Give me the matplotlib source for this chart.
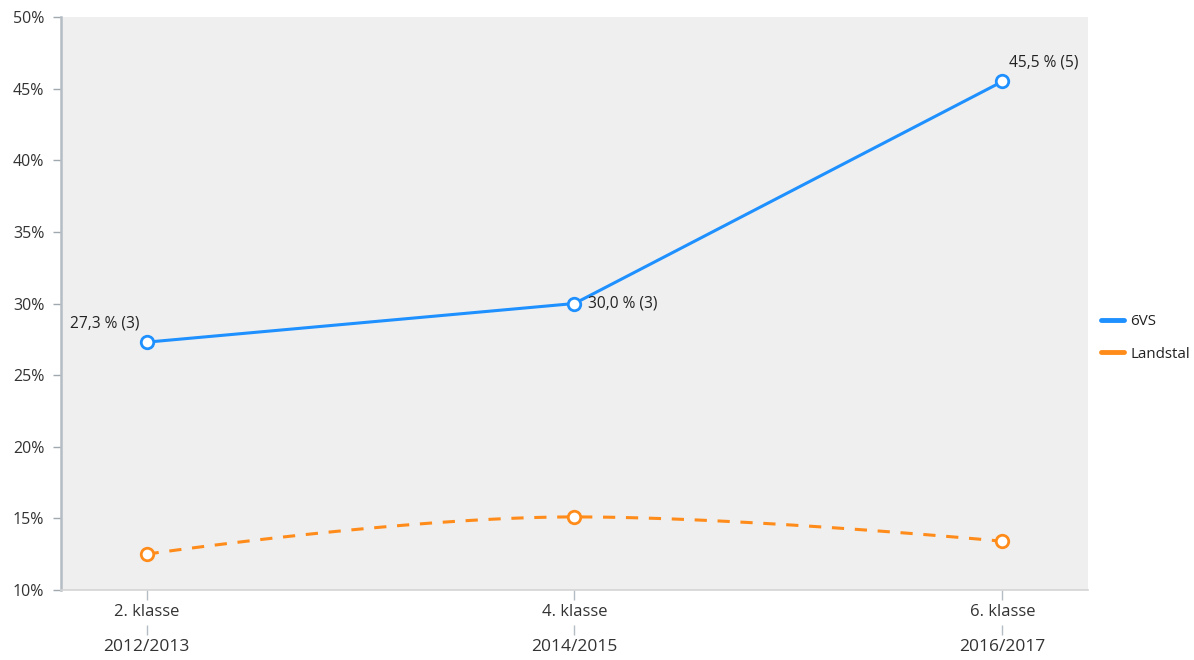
import numpy as np
import matplotlib.pyplot as plt

plt.rcParams['font.family'] = ['Open Sans', 'DejaVu Sans']

klasser = ['2. klasse', '4. klasse', '6. klasse']
aar = ['2012/2013', '2014/2015', '2016/2017']
vs6 = [27.3, 30.0, 45.5]
vs6_labels = ['27,3 % (3)', '30,0 % (3)', '45,5 % (5)']
landstal = [12.5, 15.1, 13.4]

blue = '#1e90ff'
orange = '#ff8c1a'
txt = '#333333'


def spline(x, y, n=60):
    # cubic bezier smoothing in the style of a web-chart "spline" series
    x = np.asarray(x, float)
    y = np.asarray(y, float)
    k = len(x)
    lc = [(x[i], y[i]) for i in range(k)]
    rc = [(x[i], y[i]) for i in range(k)]
    for i in range(1, k - 1):
        lx = (1.5 * x[i] + x[i - 1]) / 2.5
        ly = (1.5 * y[i] + y[i - 1]) / 2.5
        rx = (1.5 * x[i] + x[i + 1]) / 2.5
        ry = (1.5 * y[i] + y[i + 1]) / 2.5
        corr = (ry - ly) * (rx - x[i]) / (rx - lx) + y[i] - ry
        ly += corr
        ry += corr
        if ly > y[i - 1] and ly > y[i]:
            ly = max(y[i - 1], y[i]); ry = 2 * y[i] - ly
        elif ly < y[i - 1] and ly < y[i]:
            ly = min(y[i - 1], y[i]); ry = 2 * y[i] - ly
        if ry > y[i + 1] and ry > y[i]:
            ry = max(y[i + 1], y[i]); ly = 2 * y[i] - ry
        elif ry < y[i + 1] and ry < y[i]:
            ry = min(y[i + 1], y[i]); ly = 2 * y[i] - ry
        lc[i] = (lx, ly)
        rc[i] = (rx, ry)
    t = np.linspace(0, 1, n)[:, None]
    pts = []
    for i in range(k - 1):
        p0 = np.array([x[i], y[i]])
        p1 = np.array(rc[i])
        p2 = np.array(lc[i + 1])
        p3 = np.array([x[i + 1], y[i + 1]])
        b = ((1 - t) ** 3) * p0 + 3 * ((1 - t) ** 2) * t * p1 + 3 * (1 - t) * t ** 2 * p2 + t ** 3 * p3
        pts.append(b)
    pts = np.vstack(pts)
    return pts[:, 0], pts[:, 1]


fig = plt.figure(figsize=(11.94, 6.6), dpi=100)
ax = fig.add_axes([0.0511, 0.1061, 0.8601, 0.8681])
ax.set_facecolor('#efefef')

xs = np.arange(len(klasser))
ax.plot(xs, vs6, color=blue, lw=2.2, label='6VS', zorder=3)
ax.plot(xs, vs6, 'o', ms=9, mfc='white', mec=blue, mew=2, zorder=4)

sx, sy = spline(xs, landstal)
ax.plot(sx, sy, color=orange, lw=2.2, ls=(0, (4, 3.5)), label='Landstal', zorder=3)
ax.plot(xs, landstal, 'o', ms=9, mfc='white', mec=orange, mew=2, zorder=4)

offsets = [(-5, 8, 'right', 'bottom'), (10, 0, 'left', 'center'), (5, 8, 'left', 'bottom')]
for i, (dx, dy, ha, va) in enumerate(offsets):
    ax.annotate(vs6_labels[i], (xs[i], vs6[i]), xytext=(dx, dy), textcoords='offset points',
                ha=ha, va=va, fontsize=11.2, color='#222222', zorder=5)

ax.set_xlim(-0.2, 2.2)
ax.set_ylim(10, 50)
ax.set_yticks(np.arange(10, 51, 5))
ax.set_yticklabels([f'{v}%' for v in range(10, 51, 5)])
ax.set_xticks(xs)
ax.set_xticklabels(klasser)

for s in ['top', 'right']:
    ax.spines[s].set_visible(False)
ax.spines['left'].set_color('#b4bcc4')
ax.spines['left'].set_linewidth(1.8)
ax.spines['bottom'].set_color('#d4d4d4')
ax.spines['bottom'].set_linewidth(1.2)

ax.tick_params(axis='y', length=6, width=1, color='#a0a8b0', labelsize=11.5, labelcolor=txt, pad=6)
ax.tick_params(axis='x', length=7, width=1, color='#b4bcc4', labelsize=12, labelcolor=txt, pad=3)

sec = ax.secondary_xaxis(-0.062)
sec.set_xticks(xs)
sec.set_xticklabels(aar)
sec.spines['bottom'].set_visible(False)
sec.tick_params(axis='x', length=7, width=1, color='#b4bcc4', labelsize=12.5, labelcolor=txt, pad=3)

leg = ax.legend(loc='center left', bbox_to_anchor=(1.0, 0.44), frameon=False, fontsize=10.9,
                handlelength=1.5, handletextpad=0.45, labelspacing=1.15, borderaxespad=0.45)
for h in leg.get_lines():
    h.set_linestyle('-')
    h.set_linewidth(3.5)
    h.set_solid_capstyle('round')
for t in leg.get_texts():
    t.set_color('#222222')

fig.savefig('out.png', dpi=100)
